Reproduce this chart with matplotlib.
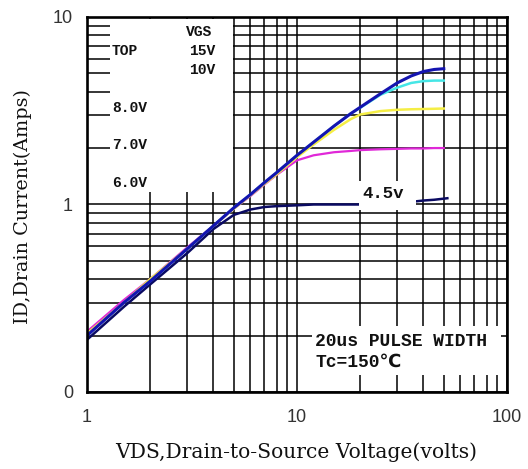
import matplotlib
matplotlib.use('Agg')
import matplotlib.pyplot as plt
from matplotlib.patches import Rectangle
from matplotlib.ticker import LogLocator, NullFormatter, FixedLocator, FixedFormatter
import numpy as np

# ---- data ----
vds = [1, 1.5, 2, 3, 4, 5, 6, 7, 8, 10, 12, 15, 18, 20, 25, 30, 35, 40, 45, 50]
id_15v = [0.20, 0.30, 0.39, 0.58, 0.77, 0.96, 1.13, 1.31, 1.48, 1.83, 2.15, 2.62, 3.05, 3.30, 3.90, 4.45, 4.85, 5.12, 5.25, 5.30]
id_10v = [0.20, 0.30, 0.39, 0.58, 0.77, 0.96, 1.13, 1.31, 1.48, 1.83, 2.15, 2.62, 3.05, 3.28, 3.85, 4.20, 4.45, 4.55, 4.58, 4.58]
id_8v = [0.205, 0.30, 0.40, 0.58, 0.77, 0.95, 1.12, 1.29, 1.45, 1.79, 2.09, 2.50, 2.85, 3.02, 3.15, 3.20, 3.22, 3.23, 3.24, 3.25]
id_7v = [0.21, 0.31, 0.40, 0.59, 0.77, 0.95, 1.11, 1.28, 1.44, 1.72, 1.83, 1.90, 1.93, 1.95, 1.97, 1.98, 1.99, 1.99, 2.00, 2.00]
vds_45 = [1, 1.5, 2, 3, 4, 5, 6, 7, 8, 10, 12, 15, 20, 25, 30, 37, 40, 45, 52]
id_45v = [0.19, 0.285, 0.375, 0.55, 0.74, 0.88, 0.94, 0.97, 0.98, 0.99, 1.0, 1.0, 1.0, 1.01, 1.02, 1.04, 1.05, 1.06, 1.08]

x_ticks = [1, 10, 100]
x_tick_labels = ['1', '10', '100']
y_ticks = [0.1, 1, 10]
y_tick_labels = ['0', '1', '10']

W, H = 528, 469
fig = plt.figure(figsize=(W / 100, H / 100), dpi=100)
ax = fig.add_axes([87 / W, (H - 392) / H, 420 / W, 375 / H])
ax.set_xscale('log')
ax.set_yscale('log')
ax.set_xlim(1, 100)
ax.set_ylim(0.1, 10)

for axis, ticks, labels in ((ax.xaxis, x_ticks, x_tick_labels), (ax.yaxis, y_ticks, y_tick_labels)):
    axis.set_major_locator(FixedLocator(ticks))
    axis.set_major_formatter(FixedFormatter(labels))
    axis.set_minor_locator(LogLocator(base=10, subs=np.arange(2, 10)))
    axis.set_minor_formatter(NullFormatter())

ax.grid(True, which='both', color='black', linewidth=1.1)
ax.set_axisbelow(True)
ax.tick_params(which='both', length=0)
ax.tick_params(axis='x', pad=12)
ax.tick_params(axis='y', pad=10)
for lab in ax.get_xticklabels() + ax.get_yticklabels():
    lab.set_fontfamily('Liberation Sans')
    lab.set_fontsize(13)
    lab.set_color('#333333')
for sp in ax.spines.values():
    sp.set_linewidth(1.9)
    sp.set_zorder(6)

ax.plot(vds_45, id_45v, color='#0A0A62', lw=1.8, zorder=2)
ax.plot(vds, id_7v, color='#E028D8', lw=1.6, zorder=2)
ax.plot(vds, id_8v, color='#F5EE45', lw=1.8, zorder=2)
ax.plot(vds, id_10v, color='#45E6E6', lw=1.8, zorder=2)
ax.plot(vds, id_15v, color='#1414B0', lw=2.2, zorder=2)

def px_box(x0, y0, x1, y1):
    xf0 = (x0 - 87) / 420
    xf1 = (x1 - 87) / 420
    yf0 = (392 - y1) / 375
    yf1 = (392 - y0) / 375
    ax.add_patch(Rectangle((xf0, yf0), xf1 - xf0, yf1 - yf0, transform=ax.transAxes,
                           facecolor='white', edgecolor='none', zorder=3))

px_box(110, 19, 233, 192)
px_box(359, 181, 416, 210)
px_box(312, 326, 501, 375)

mono = ['Liberation Mono', 'DejaVu Sans Mono', 'DejaVu Sans']

def px_text(x, y, s, size):
    ax.text((x - 87) / 420, (392 - y) / 375, s, transform=ax.transAxes, ha='left', va='center',
            fontsize=size, fontweight='bold', family=mono, zorder=5, color='#111111')

px_text(186, 32, 'VGS', 10.5)
px_text(112, 51, 'TOP', 10.5)
px_text(189, 51, '15V', 10.5)
px_text(189, 70, '10V', 10.5)
px_text(112, 108, '8.0V', 10.5)
px_text(112, 145, '7.0V', 10.5)
px_text(112, 183, '6.0V', 10.5)
px_text(362, 193, '4.5v', 12.5)
px_text(315, 341, '20us PULSE WIDTH', 13)
px_text(315, 362, 'Tc=150℃', 13)

fig.text(296 / W, 1 - 452 / H, 'VDS,Drain-to-Source Voltage(volts)', ha='center', va='center',
         fontsize=14.6, family='DejaVu Serif', color='#111111')
fig.text(23 / W, 1 - 207 / H, 'ID,Drain Current(Amps)', ha='center', va='center', rotation=90,
         fontsize=13.8, family='DejaVu Serif', color='#111111')

fig.savefig('out.png', dpi=100, facecolor='white')
